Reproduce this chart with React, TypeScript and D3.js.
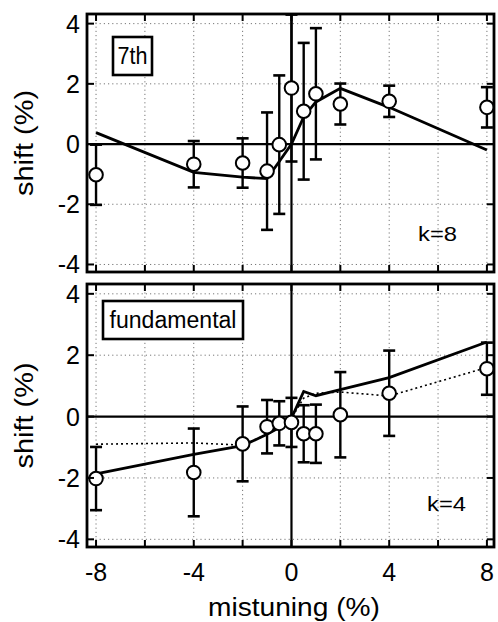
import React from "react";
import * as d3 from "d3";

// ---- data ----
const seventhX = [-8, -4, -2, -1, -0.5, 0, 0.5, 1, 2, 4, 8];
const seventhY = [-1.02, -0.67, -0.63, -0.9, -0.02, 1.86, 1.09, 1.67, 1.33, 1.42, 1.22];
const seventhErr = [1.0, 0.77, 0.82, 1.95, 2.3, 2.44, 2.27, 2.18, 0.68, 0.52, 0.67];
const seventhModel = [0.38, -0.94, -1.1, -1.15, -0.58, 0.0, 0.9, 1.4, 1.85, 1.22, -0.2];

const fundX = [-8, -4, -2, -1, -0.5, 0, 0.5, 1, 2, 4, 8];
const fundY = [-2.02, -1.82, -0.89, -0.33, -0.22, -0.19, -0.56, -0.56, 0.06, 0.76, 1.56];
const fundErr = [1.03, 1.43, 1.22, 0.87, 0.72, 0.8, 0.93, 0.95, 1.39, 1.39, 0.85];
const fundModelSolid = [-1.87, -1.23, -0.95, -0.58, -0.36, -0.05, 0.82, 0.68, 0.88, 1.27, 2.43];
const fundModelDotted = [-0.9, -0.86, -0.93, -0.58, -0.36, -0.05, 0.6, 0.76, 0.8, 0.67, 1.6];

const xGrid = [-8, -6, -4, -2, 2, 4, 6, 8];
const xTickMarks = [-8, -6, -4, -2, 0, 2, 4, 6, 8];
const xTickLabels = [-8, -4, 0, 4, 8];
const yTicks = [4, 2, 0, -2, -4];
const yGrid = [4, 2, -2, -4];

const FONT = "'Liberation Sans', Arial, Helvetica, sans-serif";

type PanelProps = {
  top: number;
  bottom: number;
  xs: number[];
  ys: number[];
  errs: number[];
  solid: number[];
  dotted?: number[];
  label: string;
  labelWidth: number;
  labelBox: { x: number; y: number; w: number; h: number };
  kText: string;
  kPos: { x: number; y: number };
};

const left = 87;
const right = 494;
const x = d3.scaleLinear().domain([-8.37, 8.29]).range([left, right]);

function Panel(p: PanelProps) {
  const y = d3.scaleLinear().domain([-4.25, 4.32]).range([p.bottom, p.top]);
  const line = d3
    .line<number>()
    .x((_, i) => x(p.xs[i]))
    .y((d) => y(d));
  const clipId = "clip" + p.top;
  const cap = 6;
  return (
    <g>
      <defs>
        <clipPath id={clipId}>
          <rect x={left} y={p.top} width={right - left} height={p.bottom - p.top} />
        </clipPath>
      </defs>
      {/* grid */}
      {xGrid.map((v) => (
        <line key={"gx" + v} x1={x(v)} x2={x(v)} y1={p.top} y2={p.bottom} stroke="#777" strokeWidth={1} strokeDasharray="1.2,3" />
      ))}
      {yGrid.map((v) => (
        <line key={"gy" + v} x1={left} x2={right} y1={y(v)} y2={y(v)} stroke="#777" strokeWidth={1} strokeDasharray="1.2,3" />
      ))}
      {/* zero lines */}
      <line x1={left} x2={right} y1={y(0)} y2={y(0)} stroke="#000" strokeWidth={2.2} />
      <line x1={x(0)} x2={x(0)} y1={p.top} y2={p.bottom} stroke="#000" strokeWidth={2.2} />
      <g clipPath={`url(#${clipId})`}>
        {p.dotted && (
          <path d={line(p.dotted) || ""} fill="none" stroke="#000" strokeWidth={1.6} strokeDasharray="2,3" />
        )}
        <path d={line(p.solid) || ""} fill="none" stroke="#000" strokeWidth={2.8} />
        {p.xs.map((xv, i) => {
          const cx = x(xv);
          const y1 = y(p.ys[i] + p.errs[i]);
          const y2 = y(p.ys[i] - p.errs[i]);
          return (
            <g key={"e" + i}>
              <line x1={cx} x2={cx} y1={y1} y2={y2} stroke="#000" strokeWidth={2.4} />
              <line x1={cx - cap} x2={cx + cap} y1={y1} y2={y1} stroke="#000" strokeWidth={2.6} />
              <line x1={cx - cap} x2={cx + cap} y1={y2} y2={y2} stroke="#000" strokeWidth={2.6} />
            </g>
          );
        })}
        {p.xs.map((xv, i) => (
          <circle key={"c" + i} cx={x(xv)} cy={y(p.ys[i])} r={6.8} fill="#fff" stroke="#000" strokeWidth={2} />
        ))}
      </g>
      {/* tick marks */}
      {xTickMarks.map((v) => (
        <g key={"tx" + v}>
          <line x1={x(v)} x2={x(v)} y1={p.top} y2={p.top + 7} stroke="#000" strokeWidth={2} />
          <line x1={x(v)} x2={x(v)} y1={p.bottom} y2={p.bottom - 7} stroke="#000" strokeWidth={2} />
        </g>
      ))}
      {yTicks.map((v) => (
        <g key={"ty" + v}>
          <line x1={left} x2={left + 7} y1={y(v)} y2={y(v)} stroke="#000" strokeWidth={2} />
          <line x1={right} x2={right - 7} y1={y(v)} y2={y(v)} stroke="#000" strokeWidth={2} />
          <text x={80} y={y(v)} dy="0.36em" textAnchor="end" fontSize={25} fontFamily={FONT}>
            {v}
          </text>
        </g>
      ))}
      {/* frame */}
      <rect x={left} y={p.top} width={right - left} height={p.bottom - p.top} fill="none" stroke="#000" strokeWidth={2.8} />
      {/* label box */}
      <rect x={p.labelBox.x} y={p.labelBox.y} width={p.labelBox.w} height={p.labelBox.h} fill="#fff" stroke="#000" strokeWidth={2.6} />
      <text
        x={p.labelBox.x + p.labelBox.w / 2}
        y={p.labelBox.y + p.labelBox.h / 2}
        dy="0.36em"
        textAnchor="middle"
        fontSize={23}
        fontFamily={FONT}
        textLength={p.labelWidth}
        lengthAdjust="spacingAndGlyphs"
      >
        {p.label}
      </text>
      <text x={p.kPos.x} y={p.kPos.y} fontSize={20} fontFamily={FONT} textLength={39} lengthAdjust="spacingAndGlyphs">
        {p.kText}
      </text>
      {/* y title */}
      <text
        transform={`translate(33, ${(p.top + p.bottom) / 2}) rotate(-90)`}
        textAnchor="middle"
        fontSize={26}
        fontFamily={FONT}
        textLength={106}
        lengthAdjust="spacingAndGlyphs"
      >
        shift (%)
      </text>
    </g>
  );
}

export default function App() {
  return (
    <svg width={498} height={622} style={{ position: "absolute", left: 0, top: 0, background: "#fff" }}>
      <rect width={498} height={622} fill="#fff" />
      <Panel
        top={14}
        bottom={272}
        xs={seventhX}
        ys={seventhY}
        errs={seventhErr}
        solid={seventhModel}
        label="7th"
        labelWidth={30}
        labelBox={{ x: 113, y: 37, w: 39, h: 38 }}
        kText="k=8"
        kPos={{ x: 418, y: 241 }}
      />
      <Panel
        top={284}
        bottom={547}
        xs={fundX}
        ys={fundY}
        errs={fundErr}
        solid={fundModelSolid}
        dotted={fundModelDotted}
        label="fundamental"
        labelWidth={127}
        labelBox={{ x: 103, y: 301, w: 140, h: 38 }}
        kText="k=4"
        kPos={{ x: 427, y: 511 }}
      />
      {xTickLabels.map((v) => (
        <text key={"xl" + v} x={x(v)} y={581} textAnchor="middle" fontSize={25} fontFamily={FONT}>
          {v}
        </text>
      ))}
      <text x={294} y={616} textAnchor="middle" fontSize={26} fontFamily={FONT} textLength={172} lengthAdjust="spacingAndGlyphs">
        mistuning (%)
      </text>
    </svg>
  );
}
